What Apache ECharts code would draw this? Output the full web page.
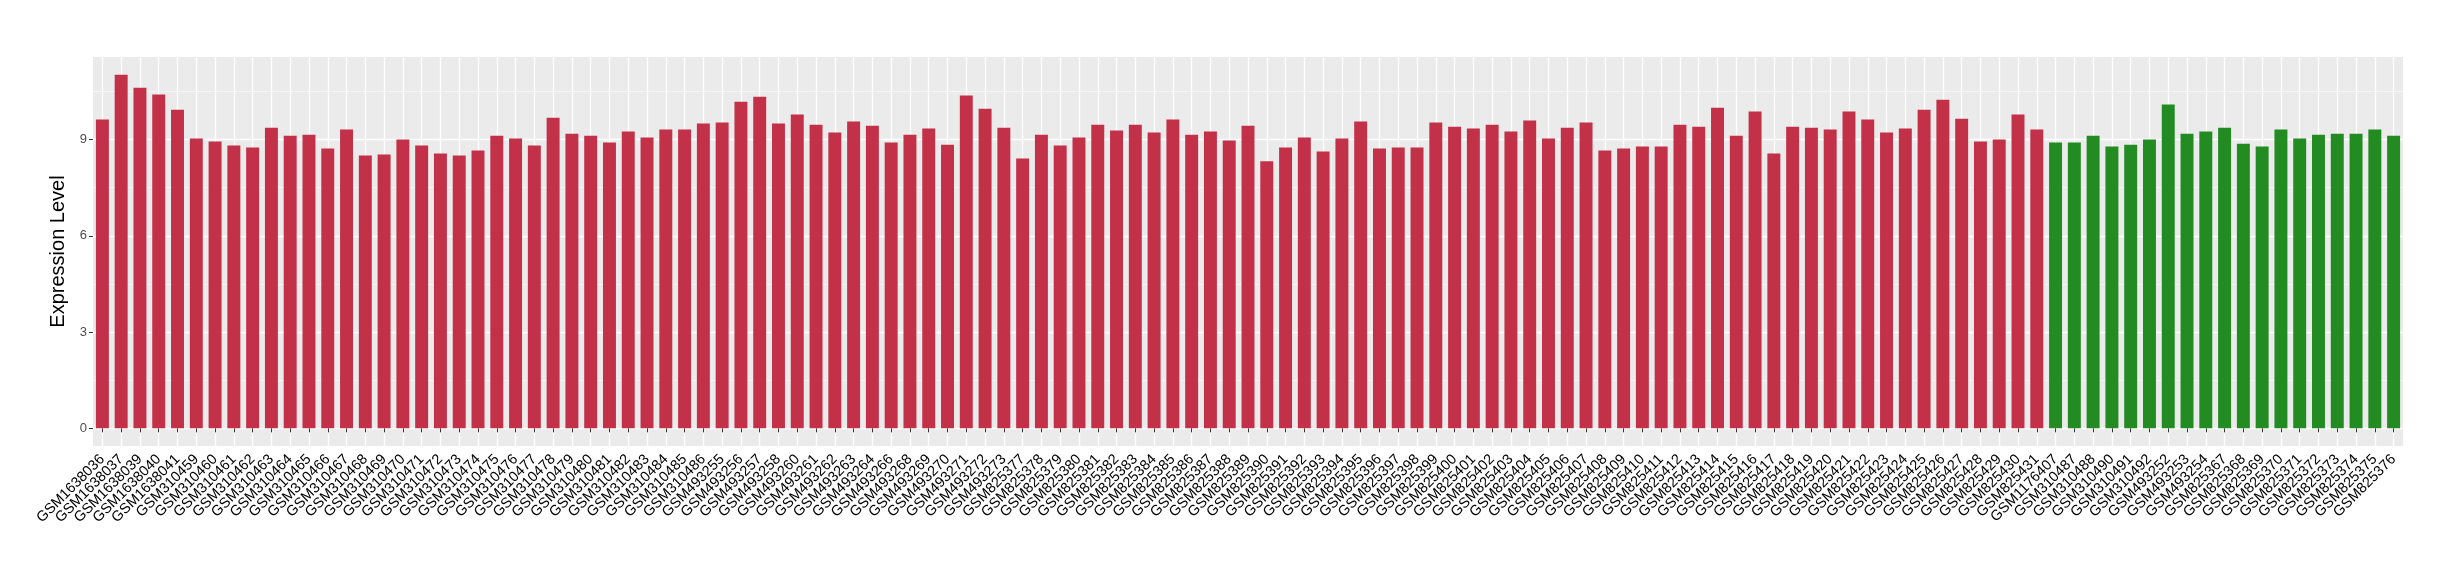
<!DOCTYPE html>
<html><head><meta charset="utf-8">
<script src="https://cdn.jsdelivr.net/npm/echarts@6/dist/echarts.min.js"></script>
<style>html,body{margin:0;padding:0;background:#fff}#c{width:2460px;height:580px}</style>
</head><body><div id="c"></div>
<script>
const redSamples = [
"GSM1638036","GSM1638037","GSM1638039","GSM1638040","GSM1638041",
"GSM310459","GSM310460","GSM310461","GSM310462","GSM310463","GSM310464","GSM310465","GSM310466","GSM310467","GSM310468",
"GSM310469","GSM310470","GSM310471","GSM310472","GSM310473","GSM310474","GSM310475","GSM310476","GSM310477","GSM310478",
"GSM310479","GSM310480","GSM310481","GSM310482","GSM310483","GSM310484","GSM310485","GSM310486",
"GSM493255","GSM493256","GSM493257","GSM493258","GSM493260","GSM493261","GSM493262","GSM493263","GSM493264","GSM493266",
"GSM493268","GSM493269","GSM493270","GSM493271","GSM493272","GSM493273",
"GSM825377","GSM825378","GSM825379","GSM825380","GSM825381","GSM825382","GSM825383","GSM825384","GSM825385","GSM825386",
"GSM825387","GSM825388","GSM825389","GSM825390","GSM825391","GSM825392","GSM825393","GSM825394","GSM825395","GSM825396",
"GSM825397","GSM825398","GSM825399","GSM825400","GSM825401","GSM825402","GSM825403","GSM825404","GSM825405","GSM825406",
"GSM825407","GSM825408","GSM825409","GSM825410","GSM825411","GSM825412","GSM825413","GSM825414","GSM825415","GSM825416",
"GSM825417","GSM825418","GSM825419","GSM825420","GSM825421","GSM825422","GSM825423","GSM825424","GSM825425","GSM825426",
"GSM825427","GSM825428","GSM825429","GSM825430","GSM825431"
];
const redValues = [
9.62,11.02,10.61,10.40,9.93,
9.03,8.94,8.81,8.75,9.37,9.12,9.15,8.72,9.31,8.50,
8.53,9.00,8.81,8.56,8.50,8.66,9.12,9.03,8.81,9.68,
9.18,9.12,8.91,9.25,9.06,9.31,9.31,9.50,
9.53,10.18,10.33,9.50,9.78,9.46,9.22,9.56,9.43,8.91,
9.15,9.34,8.84,10.37,9.96,9.37,
8.41,9.15,8.81,9.06,9.46,9.28,9.46,9.22,9.62,9.15,
9.25,8.97,9.43,8.32,8.75,9.06,8.63,9.03,9.56,8.72,
8.75,8.75,9.53,9.40,9.34,9.46,9.25,9.59,9.03,9.37,
9.53,8.66,8.72,8.78,8.78,9.46,9.40,9.99,9.12,9.87,
8.56,9.40,9.37,9.31,9.87,9.62,9.22,9.34,9.93,10.24,
9.65,8.94,9.00,9.78,9.31
];
const greenSamples = [
"GSM1176407","GSM310487","GSM310488","GSM310490","GSM310491","GSM310492","GSM493252","GSM493253","GSM493254",
"GSM825367","GSM825368","GSM825369","GSM825370","GSM825371","GSM825372","GSM825373","GSM825374","GSM825375","GSM825376"
];
const greenValues = [
8.91,8.91,9.12,8.78,8.84,9.00,10.09,9.18,9.25,
9.37,8.87,8.78,9.31,9.03,9.15,9.18,9.18,9.31,9.12
];
const yTickValues = [0, 3, 6, 9];
const yMinorValues = [1.5, 4.5, 7.5, 10.5];
const yTitle = "Expression Level";

const RED = "#C33149", GREEN = "#228B22";
const categories = redSamples.concat(greenSamples);
const barData = redValues.map(v => ({value: v, itemStyle: {color: RED}}))
  .concat(greenValues.map(v => ({value: v, itemStyle: {color: GREEN}})));
const n = categories.length;
const allVals = redValues.concat(greenValues);
const yMax = Math.max(...allVals);
const pad = 0.05 * yMax;
const centers = categories.map((_, i) => i + 1);
const FONT = "Liberation Sans, Arial, Helvetica, sans-serif";

const chart = echarts.init(document.getElementById('c'), null, {renderer: 'canvas'});
chart.setOption({
  animation: false,
  backgroundColor: '#ffffff',
  textStyle: {fontFamily: FONT},
  grid: {left: 93, right: 57, top: 57, bottom: 134, show: true, backgroundColor: '#EBEBEB', borderWidth: 0, containLabel: false},
  xAxis: [{
    type: 'category', data: categories, boundaryGap: true,
    axisLine: {show: false}, axisTick: {show: false}, splitLine: {show: false},
    axisLabel: {interval: 0, rotate: 45, fontSize: 14.5, color: '#000', fontFamily: FONT, margin: 11}
  }, {
    type: 'value', position: 'bottom', min: 0.5, max: n + 0.5,
    axisLine: {show: false},
    axisTick: {show: true, length: 4, customValues: centers, lineStyle: {color: '#333', width: 1}},
    axisLabel: {show: false, customValues: centers},
    splitLine: {show: true, lineStyle: {color: '#FFFFFF', width: 1.3}}
  }],
  yAxis: [{
    type: 'value', min: -pad, max: yMax + pad,
    name: yTitle, nameLocation: 'middle', nameGap: 18,
    nameTextStyle: {fontSize: 20, color: '#000', fontFamily: FONT},
    axisLine: {show: false},
    axisTick: {show: true, length: 4, customValues: yTickValues, lineStyle: {color: '#333', width: 1}},
    axisLabel: {customValues: yTickValues, fontSize: 13, color: '#4D4D4D', margin: 6, fontFamily: FONT},
    splitLine: {show: true, lineStyle: {color: '#FFFFFF', width: 1.3}}
  }, {
    type: 'value', position: 'left', min: -pad, max: yMax + pad,
    axisLine: {show: false},
    axisTick: {show: false, customValues: yMinorValues},
    axisLabel: {show: false, customValues: yMinorValues},
    splitLine: {show: true, lineStyle: {color: '#F7F7F7', width: 0.8}}
  }],
  series: [{
    type: 'bar', xAxisIndex: 0, yAxisIndex: 0, data: barData,
    barCategoryGap: '31%', silent: true
  }]
});
</script></body></html>
